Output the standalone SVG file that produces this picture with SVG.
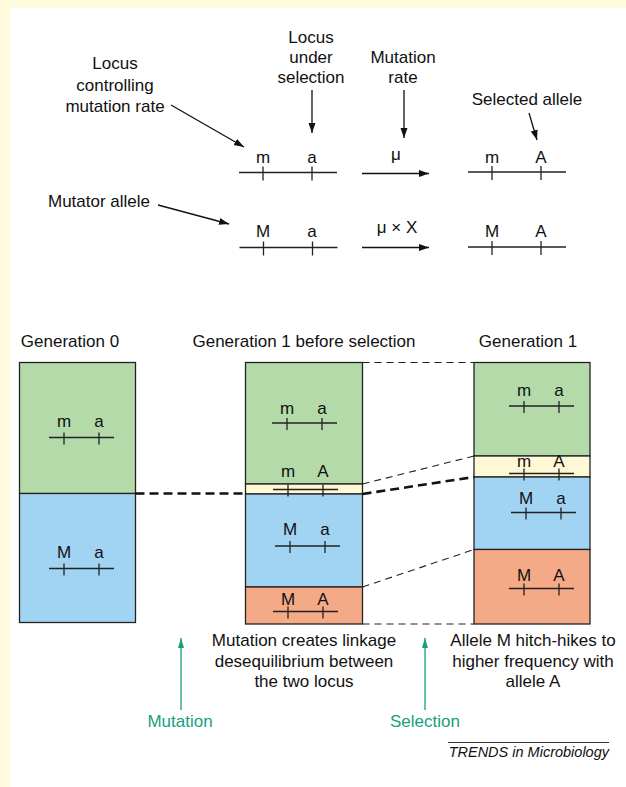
<svg xmlns="http://www.w3.org/2000/svg" width="626" height="787" viewBox="0 0 626 787">
<style>
text{font-family:"Liberation Sans",Arial,sans-serif;font-size:17px;fill:#111;text-anchor:middle}
.lft{text-anchor:start}
.it{font-style:italic;font-size:14.5px;text-anchor:end}
.tl{fill:#17a07a}
.box{stroke:#222;stroke-width:1.3}
.g{fill:#b4daaa}.b{fill:#a0d4f2}.y{fill:#fff8d4}.o{fill:#f5aa87}
.gl{stroke:#222;stroke-width:1.3;fill:none}
.ar{stroke:#111;stroke-width:1.3;fill:none;marker-end:url(#ah)}
.tar{stroke:#17a07a;stroke-width:1.3;fill:none;marker-end:url(#tah)}
.dt{stroke:#222;stroke-width:1.1;stroke-dasharray:7 5;fill:none}
.dk{stroke:#111;stroke-width:2.6;stroke-dasharray:9 5;fill:none}
</style>
<defs>
<marker id="ah" markerUnits="userSpaceOnUse" markerWidth="11" markerHeight="8" refX="10" refY="3.5" orient="auto">
<path d="M0,0 L10,3.5 L0,7 z" fill="#111"/>
</marker>
<marker id="tah" markerUnits="userSpaceOnUse" markerWidth="11" markerHeight="8" refX="10" refY="3" orient="auto">
<path d="M0,0 L10,3 L0,6 z" fill="#17a07a"/>
</marker>
<path id="gb" d="M0,0 H65 M15,-5 V7 M50,-5 V7" class="gl"/>
<path id="gt" d="M0,0 H98 M24,-6 V8 M73,-6 V8" class="gl"/>
</defs>
<rect x="0" y="0" width="626" height="787" fill="#fffadc"/>
<rect x="10" y="8" width="616" height="779" fill="#fff"/>

<g id="labels-top">
<text x="115" y="69">Locus</text>
<text x="115" y="91">controlling</text>
<text x="115" y="112">mutation rate</text>
<text x="311" y="43">Locus</text>
<text x="311" y="63">under</text>
<text x="311" y="83">selection</text>
<text x="403" y="63">Mutation</text>
<text x="403" y="83">rate</text>
<text x="527" y="105">Selected allele</text>
<text x="48" y="207" class="lft">Mutator allele</text>
</g>

<g id="gene-ma-top">
<use href="#gt" x="239" y="172.5"/>
<text x="263" y="163">m</text><text x="312" y="163">a</text>
</g>
<g id="gene-mA-top">
<use href="#gt" x="468" y="172"/>
<text x="492" y="163">m</text><text x="541" y="163">A</text>
</g>
<g id="gene-Ma-top">
<use href="#gt" x="239.5" y="247.5"/>
<text x="263" y="237">M</text><text x="312" y="237">a</text>
</g>
<g id="gene-MA-top">
<use href="#gt" x="468" y="247"/>
<text x="492" y="237">M</text><text x="541" y="237">A</text>
</g>
<g id="mu-labels">
<text x="396" y="160">μ</text>
<text x="397" y="233">μ × X</text>
</g>

<g id="headers">
<text x="70" y="347">Generation 0</text>
<text x="304" y="347">Generation 1 before selection</text>
<text x="528" y="347">Generation 1</text>
</g>

<g id="gen0">
<rect x="19.5" y="362.5" width="116" height="131" class="box g"/>
<rect x="19.5" y="493.5" width="116" height="129" class="box b"/>
<use href="#gb" x="49" y="437.5"/>
<text x="64" y="427">m</text><text x="99" y="427">a</text>
<use href="#gb" x="49" y="568.5"/>
<text x="64" y="558">M</text><text x="99" y="558">a</text>
</g>

<g id="gen1-before">
<rect x="245.5" y="362.5" width="117" height="121.5" class="box g"/>
<rect x="245.5" y="484" width="117" height="10" class="box y"/>
<rect x="245.5" y="494" width="117" height="93" class="box b"/>
<rect x="245.5" y="587" width="117" height="37" class="box o"/>
<use href="#gb" x="272" y="423"/>
<text x="287" y="414">m</text><text x="322" y="414">a</text>
<use href="#gb" x="273" y="489.5"/>
<text x="288" y="477">m</text><text x="323" y="477">A</text>
<use href="#gb" x="275" y="546"/>
<text x="290" y="535">M</text><text x="325" y="535">a</text>
<use href="#gb" x="273" y="611.5"/>
<text x="288" y="605">M</text><text x="323" y="605">A</text>
</g>

<g id="gen1">
<rect x="474" y="362.5" width="116" height="93.5" class="box g"/>
<rect x="474" y="456" width="116" height="21" class="box y"/>
<rect x="474" y="477" width="116" height="72.5" class="box b"/>
<rect x="474" y="549.5" width="116" height="74.5" class="box o"/>
<use href="#gb" x="509" y="406"/>
<text x="524" y="396">m</text><text x="559" y="396">a</text>
<use href="#gb" x="509" y="473.5"/>
<text x="524" y="467">m</text><text x="559" y="467">A</text>
<use href="#gb" x="511" y="512.5"/>
<text x="526" y="504">M</text><text x="561" y="504">a</text>
<use href="#gb" x="509" y="588.5"/>
<text x="524" y="581">M</text><text x="559" y="581">A</text>
</g>

<g id="connectors">
<path d="M171,105 L244,147" class="ar"/>
<path d="M312,90 V133" class="ar"/>
<path d="M404,90 V138" class="ar"/>
<path d="M529,113 L537,140" class="ar"/>
<path d="M158,205 L229,224" class="ar"/>
<path d="M362,173.5 H429" class="ar"/>
<path d="M362,247.5 H429" class="ar"/>
<path d="M135.5,493.5 H245.5" class="dk"/>
<path d="M362.5,362.5 H474" class="dt"/>
<path d="M362.5,484 L474,456" class="dt"/>
<path d="M362.5,494 L474,477" class="dk"/>
<path d="M362.5,587 L474,549.5" class="dt"/>
<path d="M362.5,624 H474" class="dt"/>
<path d="M181,710 V638" class="tar"/>
<path d="M425,710 V638" class="tar"/>
</g>

<g id="labels-bottom">
<text x="304" y="646">Mutation creates linkage</text>
<text x="304" y="667">desequilibrium between</text>
<text x="304" y="687">the two locus</text>
<text x="533" y="646">Allele M hitch-hikes to</text>
<text x="533" y="667">higher frequency with</text>
<text x="533" y="687">allele A</text>
<text x="180" y="727" class="tl">Mutation</text>
<text x="425" y="727" class="tl">Selection</text>
</g>

<g id="credit">
<path d="M448,742.5 H609" stroke="#333" stroke-width="1"/>
<text x="609" y="757" class="it">TRENDS in Microbiology</text>
</g>
</svg>
